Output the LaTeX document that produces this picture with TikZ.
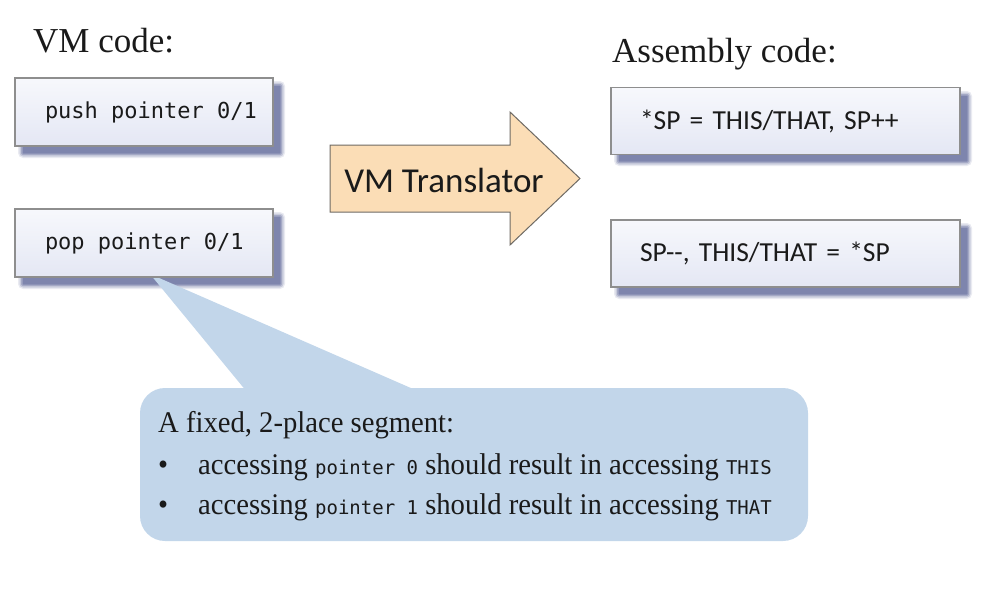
\documentclass[tikz,border=0pt]{standalone}
\usepackage{fontspec}
\setmainfont{Liberation Serif}
\newfontfamily\calfont{Carlito}
\newfontfamily\cmono{DejaVu Sans Mono}
\newfontfamily\callserif[FakeStretch=0.955]{Liberation Serif}
\definecolor{boxtop}{HTML}{F7F8FC}
\definecolor{boxbot}{HTML}{E4E7F4}
\definecolor{boxline}{HTML}{8E8E8E}
\definecolor{shadowc}{HTML}{46508A}
\definecolor{callfill}{HTML}{C2D6EA}
\definecolor{arrowfill}{HTML}{FBDDB6}
\definecolor{arrowline}{HTML}{6E6A64}
\definecolor{txt}{HTML}{1A1A1A}
\newcommand{\boxshadow}[4]{%
  \foreach \a/\o in {5/0.12,3.5/0.2,2/0.28,0.5/0.4}{%
    \fill[shadowc, opacity=\o, rounded corners=\a pt] (#1+8-\a,#2+8-\a) rectangle (#3+7+\a,#4+7+\a);}}
\newcommand{\sm}[1]{{\cmono\fontsize{19}{22}\selectfont #1}}
\newcommand{\vmtext}[1]{\makebox[198pt][l]{#1}}
\begin{document}
\begin{tikzpicture}[x=1pt,y=-1pt,
  codebox/.style={draw=boxline, line width=1.1pt, top color=boxtop, bottom color=boxbot, text=txt},
  vmbox/.style={codebox, minimum height=68, inner xsep=30, inner ysep=0, font=\cmono\fontsize{22}{26}\selectfont},
  asmbox/.style={codebox, text width=291, inner xsep=29, inner ysep=0, align=left, minimum height=67, font=\calfont\fontsize{27.5}{32}\selectfont},
  title/.style={anchor=base west, inner sep=0, text=txt, font=\fontsize{35}{40}\selectfont},
  calltext/.style={anchor=base west, inner sep=0, text=txt, font=\callserif\fontsize{30}{34}\selectfont}]
\useasboundingbox (0,0) rectangle (998,590);

% titles
\node[title] (t1) at (33,52) {VM code:};
\node[title] (t2) at (612,62) {Assembly code:};

% shadows
\boxshadow{15}{78}{273}{146}
\boxshadow{15}{209}{273}{277}
\boxshadow{611}{88}{960}{154}
\boxshadow{611}{220}{960}{287}

% callout
\fill[callfill, rounded corners=25pt] (140,388) rectangle (808,541);
\coordinate (tip) at (150,274);
\fill[callfill] (tip) -- (247,392) -- (420,392) -- cycle;

% code boxes
\node[vmbox] (push) at (144,112) {\vmtext{push pointer 0/1}};
\node[vmbox] (pop) at (144,243) {\vmtext{pop pointer 0/1}};
\node[asmbox] (asm1) at (785.5,121) {*SP = THIS/THAT, SP++};
\node[asmbox] (asm2) at (785.5,253.5) {SP-{}-, THIS/THAT = *SP};

% translator arrow
\draw[fill=arrowfill, draw=arrowline, line width=1pt, line join=miter]
  (330,145) -- (510,145) -- (510,112) -- (580,178.5) -- (510,245) -- (510,212) -- (330,212) -- cycle;
\node[inner sep=0, text=txt, font=\calfont\fontsize{35}{40}\selectfont] (vmt) at (444,180) {VM Translator};

% callout text
\node[calltext] (l1) at (158,432) {A fixed, 2-place segment:};
\node[calltext] (l2) at (158,474) {\makebox[40pt][l]{\textbullet}accessing \sm{pointer 0} should result in accessing \sm{THIS}};
\node[calltext] (l3) at (158,514) {\makebox[40pt][l]{\textbullet}accessing \sm{pointer 1} should result in accessing \sm{THAT}};
\end{tikzpicture}
\end{document}
